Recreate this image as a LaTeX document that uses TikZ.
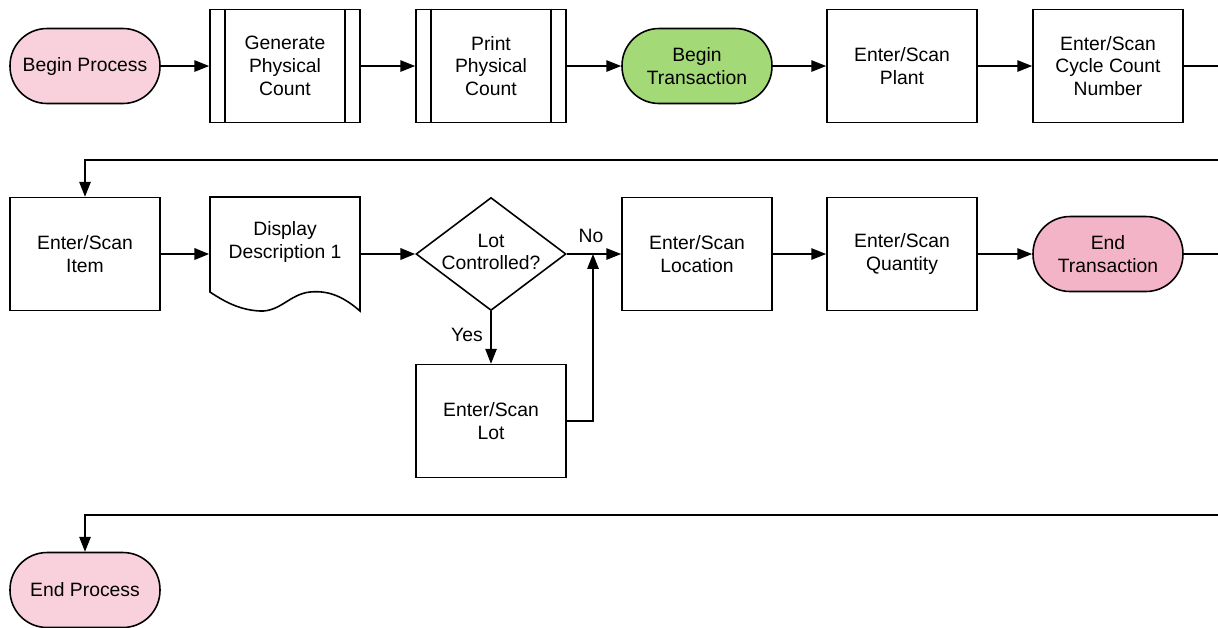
\documentclass[tikz,border=0pt]{standalone}
\usepackage{fontspec}
\setmainfont{Liberation Sans}
\usetikzlibrary{arrows.meta,shapes.geometric}

\definecolor{startpink}{HTML}{F9D1DC}
\definecolor{endpink}{HTML}{F4B4C8}
\definecolor{startgreen}{HTML}{A3D977}

\tikzset{
  box/.style={draw, line width=0.9pt, minimum width=3cm, minimum height=2.26cm, inner sep=0pt, align=center},
  term/.style={box, minimum height=1.5cm, rounded corners=0.74cm},
  flow/.style={line width=0.9pt, -{Triangle[length=8.5pt,width=6.5pt]}},
  heavyflow/.style={flow, line width=1.4pt},
  plain/.style={line width=0.9pt}
}

\begin{document}
\begin{tikzpicture}[x=0.02cm, y=-0.02cm, font=\fontsize{11}{13}\selectfont]
\useasboundingbox (0,0) rectangle (1218,627);

% first row
\node[term, fill=startpink] (bp) at (85,66) {Begin Process};
\node[box] (gen) at (285,66) {Generate\\Physical\\Count};
\node[box] (print) at (491,66) {Print\\Physical\\Count};
\node[term, fill=startgreen] (bt) at (697,66) {Begin\\Transaction};
\node[box] (plant) at (902,66) {Enter/Scan\\Plant};
\node[box] (ccn) at (1108,66) {Enter/Scan\\Cycle Count\\Number};
\foreach \n in {gen,print}{
  \draw[plain] ([xshift=0.32cm]\n.north west) -- ([xshift=0.32cm]\n.south west);
  \draw[plain] ([xshift=-0.32cm]\n.north east) -- ([xshift=-0.32cm]\n.south east);
}

% second row
\node[box] (item) at (85,254) {Enter/Scan\\Item};
\node[box, draw=none, label={[name=disptext, align=center, yshift=0.24cm]center:Display\\Description 1}] (disp) at (285,254) {};
\draw[plain] (210,292) -- (210,197) -- (360,197) -- (360,311)
  .. controls (345,298) and (330,290) .. (310,292)
  .. controls (290,294) and (280,312) .. (260,311)
  .. controls (240,310) and (225,302) .. cycle;
\node[diamond, draw, line width=0.9pt, minimum width=3cm, minimum height=2.26cm, inner sep=0pt,
  label={[name=lottext, align=center, yshift=0.04cm]center:Lot\\Controlled?}] (lotq) at (491,254) {};
\node[box] (loc) at (697,254) {Enter/Scan\\Location};
\node[box] (qty) at (902,254) {Enter/Scan\\Quantity};
\node[term, fill=endpink] (et) at (1108,254) {End\\Transaction};
\node[box] (lot) at (491,421) {Enter/Scan\\Lot};
\node (no) at (591,236) {No};
\node (yes) at (467,335) {Yes};

% third row
\node[term, fill=startpink] (ep) at (85,590) {End Process};

\coordinate (out1) at (1218,66);
\coordinate (in1) at (1218,160);
\coordinate (out2) at (1218,254);
\coordinate (in2) at (1218,515);
\coordinate (join) at (593,254);

\draw[flow] (bp) -- (gen);
\draw[flow] (gen) -- (print);
\draw[flow] (print) -- (bt);
\draw[flow] (bt) -- (plant);
\draw[flow] (plant) -- (ccn);
\draw[plain] (ccn) -- (out1);
\draw[flow] (in1) -| (item.north);
\draw[heavyflow] (item) -- (disp);
\draw[heavyflow] (disp) -- (lotq);
\draw[line width=1.4pt] (lotq.east) -- (join);
\draw[flow] (join) -- (loc);
\draw[flow] (lotq) -- (lot);
\draw[flow] (lot.east) -| (join);
\draw[flow] (loc) -- (qty);
\draw[flow] (qty) -- (et);
\draw[line width=1.4pt] (et) -- (out2);
\draw[flow] (in2) -| (ep.north);
\end{tikzpicture}
\end{document}
